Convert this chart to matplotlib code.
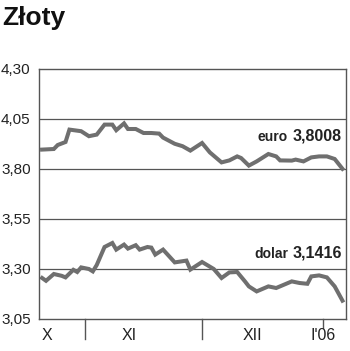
import matplotlib.pyplot as plt

# days counted from 1 Oct 2005 (0 = 1 X)
euro_days = [20, 23, 24, 26, 27, 30, 32, 34, 36, 38, 39, 41, 42, 44, 46, 48, 50, 51,
             54, 56, 58, 61, 63, 66, 68, 70, 71, 73, 75, 78, 80, 81, 84, 85, 87, 89,
             91, 93, 95, 97]
euro = [3.897, 3.900, 3.920, 3.935, 3.997, 3.989, 3.964, 3.972, 4.022, 4.022, 3.994,
        4.028, 4.000, 4.000, 3.980, 3.980, 3.977, 3.957, 3.926, 3.914, 3.892, 3.930,
        3.883, 3.833, 3.843, 3.863, 3.855, 3.817, 3.838, 3.875, 3.863, 3.843, 3.842,
        3.847, 3.838, 3.858, 3.863, 3.863, 3.850, 3.8008]

dolar_days = [20, 21, 23, 25, 26, 28, 29, 30, 32, 33, 34, 36, 38, 39, 41, 42, 44, 45,
              47, 48, 49, 51, 54, 57, 58, 61, 64, 66, 68, 70, 72, 73, 75, 78, 80, 84,
              86, 88, 89, 91, 93, 95, 97]
dolar = [3.255, 3.241, 3.275, 3.266, 3.258, 3.296, 3.285, 3.308, 3.300, 3.288, 3.320,
         3.410, 3.430, 3.397, 3.422, 3.402, 3.419, 3.397, 3.410, 3.407, 3.372, 3.397,
         3.333, 3.342, 3.297, 3.335, 3.300, 3.255, 3.283, 3.285, 3.238, 3.213, 3.188,
         3.213, 3.205, 3.238, 3.230, 3.226, 3.263, 3.268, 3.258, 3.213, 3.1416]

yticks = [3.05, 3.30, 3.55, 3.80, 4.05, 4.30]
month_starts = [31, 61, 92]
month_labels = ["X", "XI", "XII", "I'06"]
month_label_pos = [21.2, 42.2, 73.9, 92]

plt.rcParams["font.family"] = ["Liberation Sans", "DejaVu Sans"]

fig = plt.figure(figsize=(3.5, 3.51), dpi=100)
ax = fig.add_axes([39 / 350, 1 - 319 / 351, 307 / 350, 250 / 351])

line_col = "#6f6f6f"
ax.plot(euro_days, euro, color=line_col, lw=2.9, solid_joinstyle="miter")
ax.plot(dolar_days, dolar, color=line_col, lw=2.9, solid_joinstyle="miter")

ax.set_xlim(19.2, 97.9)
ax.set_ylim(3.05, 4.30)
ax.set_yticks(yticks)
ax.set_yticklabels([f"{v:.2f}".replace(".", ",") for v in yticks], fontsize=11, color="#222222")
ax.tick_params(axis="y", length=0, pad=6)
for v in yticks[1:-1]:
    ax.axhline(v, color="#555555", lw=0.9, zorder=0)

for s in ax.spines.values():
    s.set_color("#555555")
    s.set_linewidth(1.0)

# month separators below the axis
ax.set_xticks([])
for d in month_starts[:2]:
    ax.plot([d, d], [0, -0.08], transform=ax.get_xaxis_transform(), color="#555555",
            lw=1.0, clip_on=False)
ax.plot([month_starts[2]] * 2, [0, -0.036], transform=ax.get_xaxis_transform(),
        color="#555555", lw=1.0, clip_on=False)
for d, lab in zip(month_label_pos, month_labels):
    ax.text(d, -0.065, lab, transform=ax.get_xaxis_transform(), ha="center", va="center",
            fontsize=11.5, color="#222222")

fig.text(2 / 350, 1 - 18 / 351, "Złoty", fontsize=19, fontweight="bold", va="center",
         ha="left", color="#111111")

fig.text(342 / 350, 1 - 136 / 351, "3,8008", fontsize=11.5, fontweight="bold",
         ha="right", va="center", color="#222222")
fig.text(288 / 350, 1 - 137 / 351, "euro", fontsize=10, fontweight="bold",
         ha="right", va="center", color="#222222")
fig.text(342 / 350, 1 - 253 / 351, "3,1416", fontsize=11.5, fontweight="bold",
         ha="right", va="center", color="#222222")
fig.text(288 / 350, 1 - 254 / 351, "dolar", fontsize=10, fontweight="bold",
         ha="right", va="center", color="#222222")

fig.savefig("out.png", dpi=100)
